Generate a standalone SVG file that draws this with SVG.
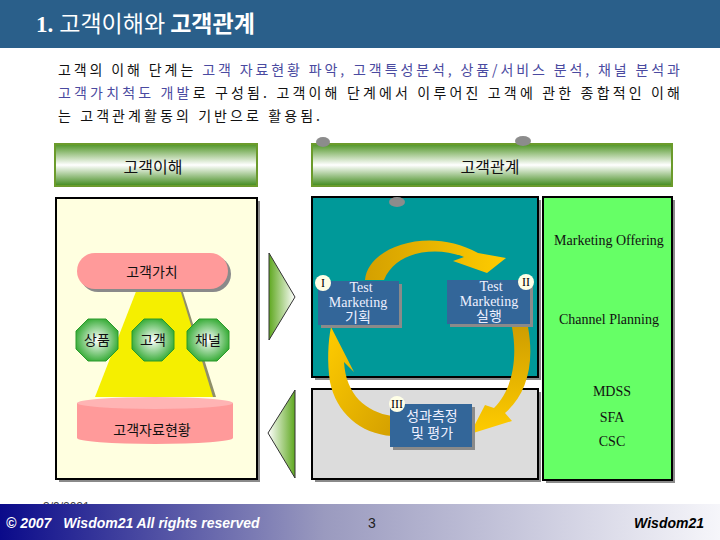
<svg xmlns="http://www.w3.org/2000/svg" width="720" height="540" viewBox="0 0 720 540">
<defs>
<linearGradient id="gbar" x1="0" y1="0" x2="0" y2="1">
<stop offset="0" stop-color="#4e9424"/><stop offset="0.5" stop-color="#ffffff"/><stop offset="1" stop-color="#3f8a1a"/>
</linearGradient>
<radialGradient id="goct" cx="0.5" cy="0.5" r="0.55">
<stop offset="0" stop-color="#ffffff"/><stop offset="1" stop-color="#2ea82e"/>
</radialGradient>
<linearGradient id="foot" x1="0" y1="0" x2="1" y2="0">
<stop offset="0" stop-color="#0a0a8a"/><stop offset="0.45" stop-color="#9a9abf"/><stop offset="1" stop-color="#f6f6fa"/>
</linearGradient>
<linearGradient id="arrR" x1="0" y1="0" x2="1" y2="0">
<stop offset="0" stop-color="#5fa820"/><stop offset="1" stop-color="#ffffff"/>
</linearGradient>
<linearGradient id="arrL" x1="0" y1="0" x2="1" y2="0">
<stop offset="0" stop-color="#ffffff"/><stop offset="1" stop-color="#5fa820"/>
</linearGradient>
<linearGradient id="gold1" x1="0" y1="0" x2="1" y2="0">
<stop offset="0" stop-color="#d4a000"/><stop offset="1" stop-color="#ffcc00"/>
</linearGradient>
<linearGradient id="gold2" x1="0" y1="0" x2="0" y2="1">
<stop offset="0" stop-color="#cf9e00"/><stop offset="1" stop-color="#ffcc00"/>
</linearGradient>
<linearGradient id="gold3" x1="1" y1="1" x2="0" y2="0">
<stop offset="0" stop-color="#d4a000"/><stop offset="1" stop-color="#ffcc00"/>
</linearGradient>
<style>
.kr{font-family:"Noto Sans CJK KR","Noto Sans",sans-serif;}
.body{font-size:14px;fill:#111;}
.blu{fill:#4a4aa0;}
.hdr{font-size:16px;fill:#111;text-anchor:middle;}
.box{stroke:#000;stroke-width:2;}
.shadow{fill:#8a8a8a;}
.lbl{fill:#336699;}
.lt{font-family:"Liberation Serif","Noto Sans CJK KR",serif;font-size:14px;fill:#eef0ff;text-anchor:middle;}
.num{fill:#ffffe6;}
.nt{font-family:"Liberation Serif",serif;font-size:12px;fill:#000;text-anchor:middle;}
.gt{font-family:"Liberation Serif",serif;font-size:14px;fill:#111;text-anchor:middle;}
.oct{fill:url(#goct);stroke:#2a9a2a;stroke-width:1;}
.ot{font-size:14px;fill:#111;text-anchor:middle;}
.dot{fill:#8c8c8c;}
.ft{font-family:"Liberation Sans",Arial,sans-serif;font-size:14px;font-weight:bold;font-style:italic;}
</style>
</defs>

<rect width="720" height="540" fill="#ffffff"/>

<g id="title">
<rect x="0" y="0" width="720" height="48" fill="#2a5f8a"/>
<text x="36" y="32" fill="#ffffff" font-size="23"><tspan font-family="Liberation Serif,serif" font-weight="bold">1.</tspan><tspan class="kr" dx="6">고객이해와 </tspan><tspan class="kr" font-weight="bold">고객관계</tspan></text>
</g>

<g id="intro" class="kr body">
<text x="58" y="75" textLength="622" lengthAdjust="spacing">고객의 이해 단계는 <tspan class="blu">고객 자료현황 파악, 고객특성분석, 상품/서비스 분석, 채널 분석과</tspan></text>
<text x="58" y="98" textLength="622" lengthAdjust="spacing"><tspan class="blu">고객가치척도 개발</tspan>로 구성됨.  고객이해 단계에서 이루어진 고객에 관한 종합적인 이해</text>
<text x="58" y="121" textLength="262" lengthAdjust="spacing">는 고객관계활동의 기반으로 활용됨.</text>
</g>

<g id="hdr-understanding">
<rect x="55" y="144" width="202" height="42" fill="url(#gbar)" stroke="#6b9b2b" stroke-width="2"/>
<text x="153" y="173" class="kr hdr">고객이해</text>
</g>
<g id="hdr-relation">
<rect x="312" y="144" width="360" height="42" fill="url(#gbar)" stroke="#6b9b2b" stroke-width="2"/>
<text x="490" y="173" class="kr hdr">고객관계</text>
</g>

<g id="left-panel">
<rect x="59" y="201" width="201" height="281" class="shadow"/>
<rect x="56" y="198" width="201" height="281" fill="#ffffe0" class="box"/>
</g>

<g id="teal-panel">
<rect x="315" y="200" width="226" height="180" class="shadow"/>
<rect x="312" y="197" width="226" height="180" fill="#009999" class="box"/>
</g>
<g id="gray-panel">
<rect x="315" y="392" width="226" height="90" class="shadow"/>
<rect x="312" y="389" width="226" height="90" fill="#dcdcdc" class="box"/>
</g>
<g id="green-panel">
<rect x="546" y="200" width="129" height="283" class="shadow"/>
<rect x="543" y="197" width="129" height="283" fill="#66ff66" class="box"/>
<text x="609" y="245" class="gt">Marketing Offering</text>
<text x="609" y="324" class="gt">Channel Planning</text>
<text x="612" y="396" class="gt">MDSS</text>
<text x="612" y="422" class="gt">SFA</text>
<text x="612" y="446" class="gt">CSC</text>
</g>

<g id="dots">
<ellipse cx="323" cy="142" rx="7" ry="5" class="dot"/>
<ellipse cx="523" cy="141" rx="8" ry="5" class="dot"/>
<ellipse cx="397" cy="202" rx="8" ry="5" class="dot"/>
</g>

<g id="pyramid">
<polygon points="182,289 216,397 212,397 178,289" fill="#8f8f6a"/>
<polygon points="137,289 180,289 213,397 95,397" fill="#f5ef00"/>
</g>

<g id="value">
<rect x="80" y="256" width="151" height="36" rx="18" class="shadow"/>
<rect x="77" y="253" width="151" height="36" rx="18" fill="#ff9a9a"/>
<text x="152" y="277" class="kr ot">고객가치</text>
</g>

<g id="product">
<polygon points="88,319 106,319 118,331 118,349 106,361 88,361 76,349 76,331" class="oct"/>
<text x="97" y="345" class="kr ot">상품</text>
</g>
<g id="customer">
<polygon points="144,319 162,319 174,331 174,349 162,361 144,361 132,349 132,331" class="oct"/>
<text x="153" y="345" class="kr ot">고객</text>
</g>
<g id="channel">
<polygon points="199,319 217,319 229,331 229,349 217,361 199,361 187,349 187,331" class="oct"/>
<text x="208" y="345" class="kr ot">채널</text>
</g>

<g id="data">
<path d="M77 403 L77 438 A78 6 0 0 0 233 438 L233 403 Z" fill="#ff9a9a"/>
<ellipse cx="155" cy="403" rx="78" ry="6" fill="#ffb4b4"/>
<text x="152" y="435" class="kr ot">고객자료현황</text>
</g>

<g id="connectors">
<polygon points="269,253 295,297 269,340" fill="url(#arrR)" stroke="#333" stroke-width="1"/>
<polygon points="295,390 268,433 295,478" fill="url(#arrL)" stroke="#333" stroke-width="1"/>
<path d="M365 280 C368 246 430 226 478 253 L506 258 L487 273 L453 261 L464 257 C438 246 396 250 384 280 Z" fill="url(#gold1)"/>
<path d="M512 327 L528 327 C535 365 526 395 505 413 L512 421 L470 434 L485 405 L494 408 C512 390 518 360 512 327 Z" fill="url(#gold2)"/>
<path d="M331 327 L354 372 L344 362 C346 395 366 412 392 416 L392 436 C360 434 336 412 330 382 C327 362 328 342 331 327 Z" fill="url(#gold3)"/>
</g>

<g id="step1">
<rect x="321" y="284" width="81" height="44" class="shadow"/>
<rect x="318" y="281" width="81" height="44" class="lbl"/>
<text x="361" y="292" class="lt">Test</text>
<text x="358" y="307" class="lt">Marketing</text>
<text x="358" y="322" class="lt kr" font-size="12">기획</text>
<circle cx="323" cy="283" r="8" class="num"/>
<text x="323" y="287" class="nt">I</text>
</g>
<g id="step2">
<rect x="450" y="283" width="83" height="44" class="shadow"/>
<rect x="447" y="280" width="83" height="44" class="lbl"/>
<text x="491" y="291" class="lt">Test</text>
<text x="489" y="306" class="lt">Marketing</text>
<text x="489" y="321" class="lt kr" font-size="12">실행</text>
<circle cx="526" cy="282" r="8" class="num"/>
<text x="526" y="286" class="nt">II</text>
</g>
<g id="step3">
<rect x="393" y="407" width="82" height="43" class="shadow"/>
<rect x="390" y="404" width="82" height="43" class="lbl"/>
<text x="432" y="421" class="lt kr" font-size="13">성과측정</text>
<text x="432" y="438" class="lt kr" font-size="13">및 평가</text>
<circle cx="397" cy="404" r="8" class="num"/>
<text x="397" y="408" class="nt">III</text>
</g>

<g id="footer">
<text x="43" y="511" font-family="Liberation Sans,Arial,sans-serif" font-size="12" fill="#444">3/9/2021</text>
<rect x="0" y="504" width="720" height="36" fill="url(#foot)"/>
<text x="6" y="528" class="ft" fill="#ffffff">© 2007<tspan dx="12">Wisdom21 All rights reserved</tspan></text>
<text x="368" y="528" font-family="Liberation Sans,Arial,sans-serif" font-size="14" fill="#222">3</text>
<text x="704" y="528" class="ft" fill="#000" text-anchor="end">Wisdom21</text>
</g>
</svg>
